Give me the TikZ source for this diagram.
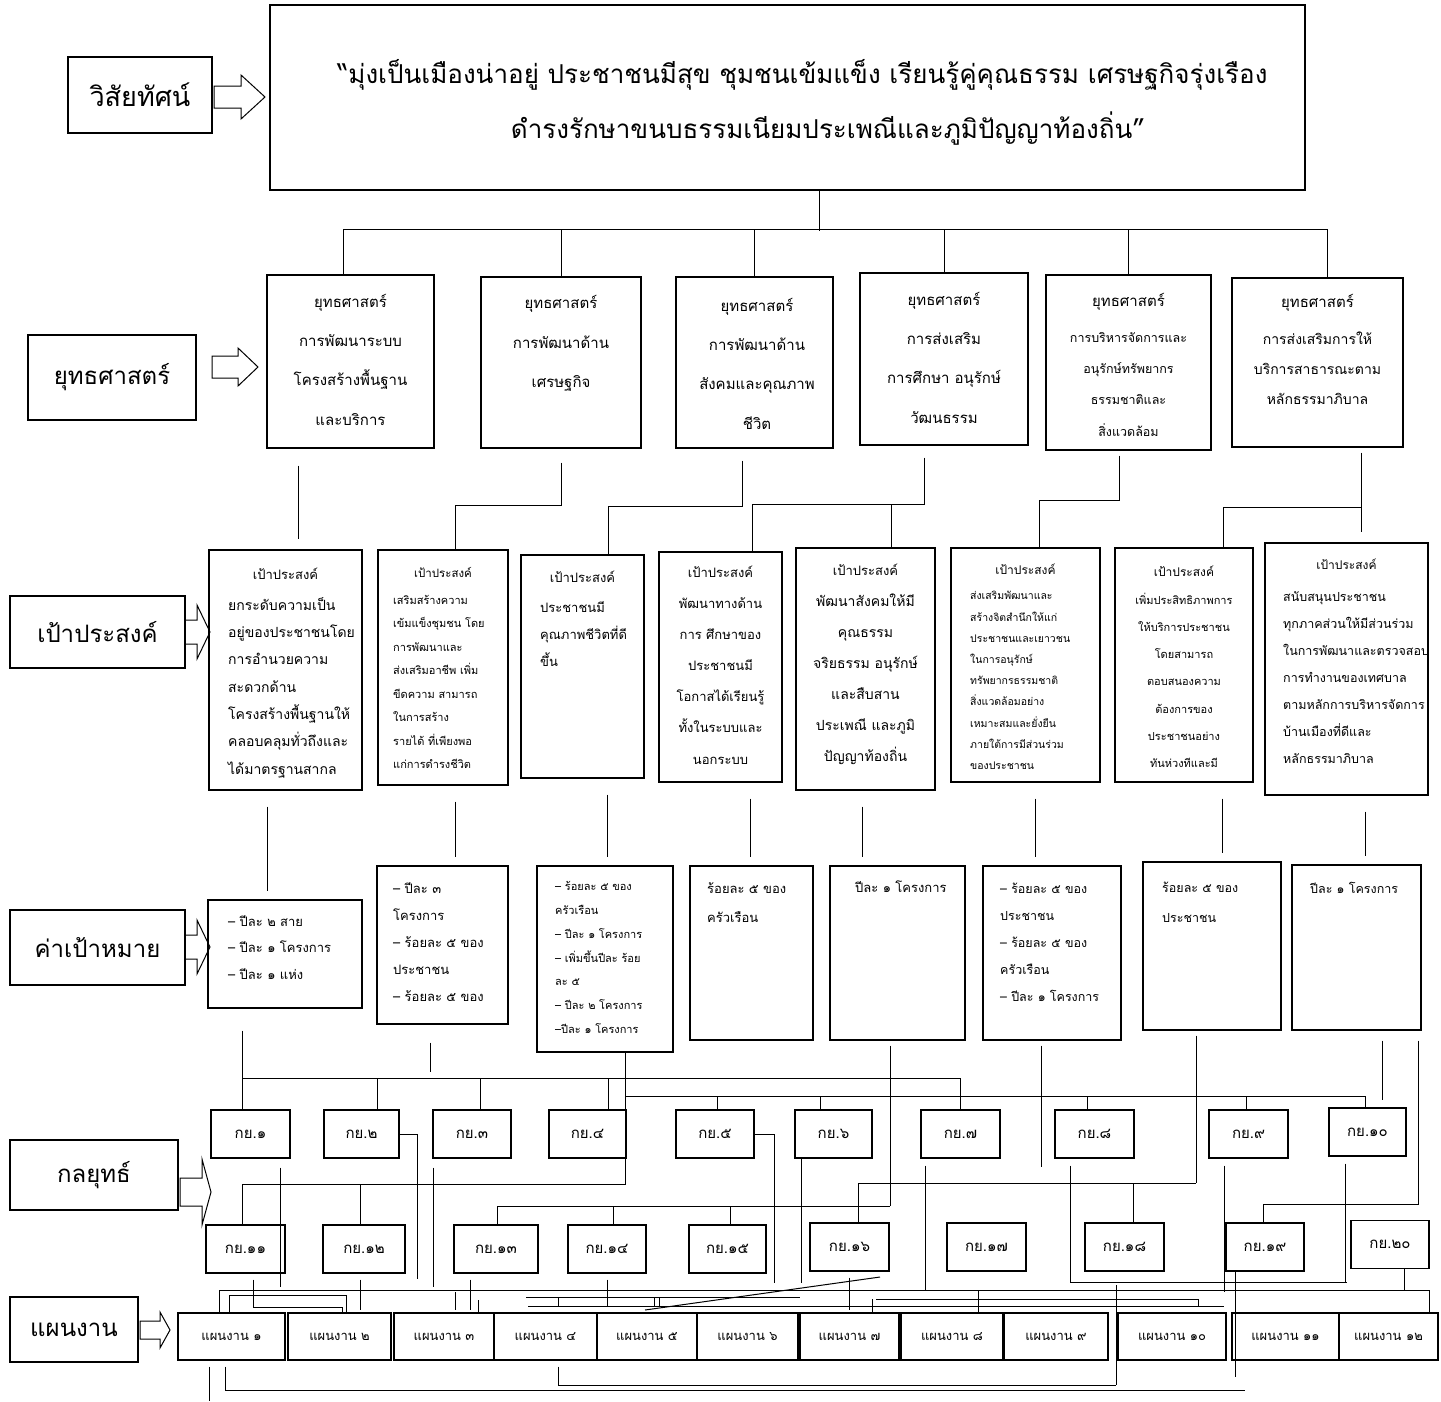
\documentclass[tikz,border=0pt]{standalone}
\usepackage{fontspec}
\newfontfamily\thai[Script=Thai]{Loma}
\newcommand{\tf}[2]{\thai\fontsize{#1}{#2}\selectfont}
% hollow block arrow: x, y, length, shaft half, head half, head length
\newcommand{\hollow}[6]{%
  \draw[line width=1pt] (#1,#2-#4) -- (#1+#3-#6,#2-#4) -- (#1+#3-#6,#2-#5) -- (#1+#3,#2)
    -- (#1+#3-#6,#2+#5) -- (#1+#3-#6,#2+#4) -- (#1,#2+#4) -- cycle;}

\begin{document}
\begin{tikzpicture}[x=1pt, y=-1pt,
    frame/.style={draw, line width=1.3pt, inner sep=0pt},
    head/.style={frame, font=\tf{24}{28}},
    tag/.style={frame, font=\tf{15}{17}},
    plan/.style={frame, font=\tf{13}{15}},
    txt/.style={inner sep=0pt},
    link/.style={line width=1pt}]
\useasboundingbox (0,0) rectangle (1441,1401);
\fill[white] (0,0) rectangle (1441,1401);

% left column
\node[head, font=\tf{27}{30}, minimum width=144, minimum height=76] (lvis) at (140,95) {วิสัยทัศน์};
\node[head, minimum width=168, minimum height=85] (lstr) at (112,377.5) {ยุทธศาสตร์};
\node[head, minimum width=175, minimum height=72] (lgoal) at (97.5,632) {เป้าประสงค์};
\node[head, minimum width=175, minimum height=75] (ltar) at (97.5,947.5) {ค่าเป้าหมาย};
\node[head, minimum width=168, minimum height=70] (ltac) at (94,1175) {กลยุทธ์};
\node[head, minimum width=128, minimum height=65] (lplan) at (74,1329.5) {แผนงาน};
\hollow{214}{97}{51}{11}{22}{24}
\hollow{212}{367}{46}{11}{19}{20}
\hollow{185}{632}{25}{12}{27}{13}
\hollow{185}{947}{25}{12}{27}{13}
\hollow{180}{1192}{31}{14}{33}{9}
\hollow{140}{1330}{30}{9}{18}{10}

% vision
\node[frame, minimum width=1035, minimum height=185] (vis) at (787.5,97.5) {};
\node[txt, anchor=base, font=\tf{26}{30}] (vis1) at (802.5,83) {“มุ่งเป็นเมืองน่าอยู่ ประชาชนมีสุข ชุมชนเข้มแข็ง เรียนรู้คู่คุณธรรม เศรษฐกิจรุ่งเรือง};
\node[txt, anchor=base, font=\tf{26}{30}] (vis2) at (828,138) {ดำรงรักษาขนบธรรมเนียมประเพณีและภูมิปัญญาท้องถิ่น”};

% strategies (text nodes sit on the baseline of their last line)
\node[frame, minimum width=167, minimum height=173] (s1) at (350.5,361.5) {};
\node[frame, minimum width=160, minimum height=171] (s2) at (561,362.5) {};
\node[frame, minimum width=157, minimum height=171] (s3) at (754.5,362.5) {};
\node[frame, minimum width=168, minimum height=172] (s4) at (944,359) {};
\node[frame, minimum width=165, minimum height=175] (s5) at (1128.5,362.5) {};
\node[frame, minimum width=171, minimum height=169] (s6) at (1317.5,362.5) {};
\node[txt, anchor=base, align=center, font=\tf{15}{39.3}] (s1t) at (350.5,425) {ยุทธศาสตร์\\การพัฒนาระบบ\\โครงสร้างพื้นฐาน\\และบริการ};
\node[txt, anchor=base, align=center, font=\tf{15}{39.3}] (s2t) at (561,387.5) {ยุทธศาสตร์\\การพัฒนาด้าน\\เศรษฐกิจ};
\node[txt, anchor=base, align=center, font=\tf{15}{39.3}] (s3t) at (757,429) {ยุทธศาสตร์\\การพัฒนาด้าน\\สังคมและคุณภาพ\\ชีวิต};
\node[txt, anchor=base, align=center, font=\tf{15}{39.3}] (s4t) at (944,423) {ยุทธศาสตร์\\การส่งเสริม\\การศึกษา อนุรักษ์\\วัฒนธรรม};
\node[txt, anchor=base, font=\tf{15}{30}] (s5h) at (1128.5,306) {ยุทธศาสตร์};
\node[txt, anchor=base, align=center, font=\tf{12.5}{31.3}] (s5t) at (1128.5,436) {การบริหารจัดการและ\\อนุรักษ์ทรัพยากร\\ธรรมชาติและ\\สิ่งแวดล้อม};
\node[txt, anchor=base, font=\tf{15}{30}] (s6h) at (1317.5,307) {ยุทธศาสตร์};
\node[txt, anchor=base, align=center, font=\tf{14}{30}] (s6t) at (1317.5,404) {การส่งเสริมการให้\\บริการสาธารณะตาม\\หลักธรรมาภิบาล};

% goals
\node[frame, minimum width=153, minimum height=240] (g1) at (285.5,670) {};
\node[frame, minimum width=130, minimum height=235] (g2) at (443,667.5) {};
\node[frame, minimum width=123, minimum height=223] (g3) at (582.5,666.5) {};
\node[frame, minimum width=123, minimum height=230] (g4) at (720.5,667) {};
\node[frame, minimum width=139, minimum height=242] (g5) at (865.5,669) {};
\node[frame, minimum width=149, minimum height=234] (g6) at (1025.5,665) {};
\node[frame, minimum width=138, minimum height=234] (g7) at (1184,665) {};
\node[frame, minimum width=163, minimum height=252] (g8) at (1346.5,669) {};
\node[txt, anchor=base, font=\tf{13}{27}] (g1h) at (285.5,579) {เป้าประสงค์};
\node[txt, anchor=base west, align=left, font=\tf{14}{27.3}] (g1t) at (228,774) {ยกระดับความเป็น\\อยู่ของประชาชนโดย\\การอำนวยความ\\สะดวกด้าน\\โครงสร้างพื้นฐานให้\\คลอบคลุมทั่วถึงและ\\ได้มาตรฐานสากล};
\node[txt, anchor=base, font=\tf{11.5}{24}] (g2h) at (443,577) {เป้าประสงค์};
\node[txt, anchor=base west, align=left, font=\tf{11}{23.5}] (g2t) at (393,768.5) {เสริมสร้างความ\\เข้มแข็งชุมชน โดย\\การพัฒนาและ\\ส่งเสริมอาชีพ เพิ่ม\\ขีดความ สามารถ\\ในการสร้าง\\รายได้ ที่เพียงพอ\\แก่การดำรงชีวิต};
\node[txt, anchor=base, font=\tf{13}{27}] (g3h) at (582.5,582) {เป้าประสงค์};
\node[txt, anchor=base west, align=left, font=\tf{13}{27}] (g3t) at (540,666) {ประชาชนมี\\คุณภาพชีวิตที่ดี\\ขึ้น};
\node[txt, anchor=base, font=\tf{13}{27}] (g4h) at (720.5,577) {เป้าประสงค์};
\node[txt, anchor=base, align=center, font=\tf{13}{31.2}] (g4t) at (720.5,764) {พัฒนาทางด้าน\\การ ศึกษาของ\\ประชาชนมี\\โอกาสได้เรียนรู้\\ทั้งในระบบและ\\นอกระบบ};
\node[txt, anchor=base, font=\tf{13}{27}] (g5h) at (865.5,575) {เป้าประสงค์};
\node[txt, anchor=base, align=center, font=\tf{14}{31}] (g5t) at (865.5,761) {พัฒนาสังคมให้มี\\คุณธรรม\\จริยธรรม อนุรักษ์\\และสืบสาน\\ประเพณี และภูมิ\\ปัญญาท้องถิ่น};
\node[txt, anchor=base, font=\tf{12}{24}] (g6h) at (1025.5,574) {เป้าประสงค์};
\node[txt, anchor=base west, align=left, font=\tf{10.5}{21.2}] (g6t) at (970,769.5) {ส่งเสริมพัฒนาและ\\สร้างจิตสำนึกให้แก่\\ประชาชนและเยาวชน\\ในการอนุรักษ์\\ทรัพยากรธรรมชาติ\\สิ่งแวดล้อมอย่าง\\เหมาะสมและยั่งยืน\\ภายใต้การมีส่วนร่วม\\ของประชาชน};
\node[txt, anchor=base, font=\tf{12}{24}] (g7h) at (1184,576) {เป้าประสงค์};
\node[txt, anchor=base, align=center, font=\tf{11}{27.2}] (g7t) at (1184,767.5) {เพิ่มประสิทธิภาพการ\\ให้บริการประชาชน\\โดยสามารถ\\ตอบสนองความ\\ต้องการของ\\ประชาชนอย่าง\\ทันห่วงทีและมี};
\node[txt, anchor=base, font=\tf{12}{24}] (g8h) at (1346.5,569) {เป้าประสงค์};
\node[txt, anchor=base west, align=left, font=\tf{12.5}{27}] (g8t) at (1283,763) {สนับสนุนประชาชน\\ทุกภาคส่วนให้มีส่วนร่วม\\ในการพัฒนาและตรวจสอบ\\การทำงานของเทศบาล\\ตามหลักการบริหารจัดการ\\บ้านเมืองที่ดีและ\\หลักธรรมาภิบาล};

% targets
\node[frame, minimum width=154, minimum height=108] (t1) at (285,954) {};
\node[frame, minimum width=131, minimum height=158] (t2) at (442.5,945) {};
\node[frame, minimum width=136, minimum height=186] (t3) at (605,959) {};
\node[frame, minimum width=123, minimum height=174] (t4) at (751.5,953) {};
\node[frame, minimum width=135, minimum height=174] (t5) at (897.5,953) {};
\node[frame, minimum width=138, minimum height=174] (t6) at (1052,953) {};
\node[frame, minimum width=138, minimum height=168] (t7) at (1212,946) {};
\node[frame, minimum width=129, minimum height=165] (t8) at (1356.5,947.5) {};
\node[txt, anchor=base west, align=left, font=\tf{13}{26.5}] (t1t) at (228,979) {– ปีละ ๒ สาย\\– ปีละ ๑ โครงการ\\– ปีละ ๑ แห่ง};
\node[txt, anchor=base west, align=left, font=\tf{13}{27}] (t2t) at (393,1001) {– ปีละ ๓\\โครงการ\\– ร้อยละ ๕ ของ\\ประชาชน\\– ร้อยละ ๕ ของ};
\node[txt, anchor=base west, align=left, font=\tf{11}{23.8}] (t3t) at (555,1033.5) {– ร้อยละ ๕ ของ\\ครัวเรือน\\– ปีละ ๑ โครงการ\\– เพิ่มขึ้นปีละ ร้อย\\ละ ๕\\– ปีละ ๒ โครงการ\\–ปีละ ๑ โครงการ};
\node[txt, anchor=base west, align=left, font=\tf{13}{29}] (t4t) at (707,922) {ร้อยละ ๕ ของ\\ครัวเรือน};
\node[txt, anchor=base west, font=\tf{13}{27}] (t5t) at (855,892) {ปีละ ๑ โครงการ};
\node[txt, anchor=base west, align=left, font=\tf{12.5}{27}] (t6t) at (1000,1001) {– ร้อยละ ๕ ของ\\ประชาชน\\– ร้อยละ ๕ ของ\\ครัวเรือน\\– ปีละ ๑ โครงการ};
\node[txt, anchor=base west, align=left, font=\tf{12.5}{30}] (t7t) at (1162,922) {ร้อยละ ๕ ของ\\ประชาชน};
\node[txt, anchor=base west, font=\tf{12.5}{27}] (t8t) at (1310,893) {ปีละ ๑ โครงการ};

% tactics
\foreach \n/\xl/\xr/\yc/\lab in {1/211/290/1134/๑, 2/324/399/1134/๒, 3/433/511/1134/๓,
    4/549/626/1134/๔, 5/676/754/1134/๕, 6/795/872/1134/๖, 7/921/1000/1134/๗,
    8/1055/1134/1134/๘, 9/1209/1288/1134/๙, 10/1329/1406/1132/๑๐,
    11/206/285/1249/๑๑, 12/323/405/1249/๑๒, 13/454/538/1249/๑๓, 14/568/646/1249/๑๔,
    15/689/766/1249/๑๕, 16/810/889/1247/๑๖, 17/947/1026/1247/๑๗, 18/1085/1164/1247/๑๘,
    19/1226/1304/1247/๑๙, 20/1351/1429/1244.5/๒๐}
  \node[tag, minimum width={\xr-\xl}, minimum height=48] (k\n) at ({(\xl+\xr)/2},\yc) {กย.\lab};

% plans
\foreach \n/\xl/\xr/\lab in {1/178/285/๑, 2/288/391/๒, 3/394/494/๓, 4/494/597/๔,
    5/597/697/๕, 6/697/798/๖, 7/800/899/๗, 8/901/1003/๘, 9/1004/1108/๙,
    10/1118/1226/๑๐, 11/1232/1339/๑๑, 12/1339/1438/๑๒}
  \node[plan, minimum width={\xr-\xl}, minimum height=47] (p\n) at ({(\xl+\xr)/2},1336.5) {แผนงาน \lab};

% vision -> strategies
\coordinate (bus) at (0,230);
\draw[link] ([xshift=32]vis.south) -- ++(0,40);
\draw[link] ([xshift=-7]s1.north) -- ++(0,-45) -| ([xshift=10]s6.north);
\foreach \s in {s2,s3,s4,s5}
  \draw[link] (\s.north) -- (\s.north |- bus);

% strategies -> goals
\draw[link, shorten <=17pt, shorten >=10pt] (298,0 |- s1.south) -- (298,0 |- g1.north);
\coordinate (j2) at (455,505);
\draw[link, shorten <=14pt] (s2.south) |- (j2) -- (j2 |- g2.north);
\coordinate (j3) at (608,506);
\draw[link, shorten <=12pt] ([xshift=-12.5]s3.south) |- (j3) -- (j3 |- g3.north);
\coordinate (j4) at (752,504);
\coordinate (j5) at (891,504);
\draw[link, shorten <=12pt] ([xshift=-20]s4.south) |- (j4) -- (j4 |- g4.north);
\draw[link] (j5) -- (j5 |- g5.north);
\coordinate (j6) at (1039,500);
\draw[link, shorten <=5pt] ([xshift=-9.5]s5.south) |- (j6) -- (j6 |- g6.north);
\coordinate (j7) at (1223,507);
\coordinate (j8) at (1361,507);
\draw[link, shorten <=5pt, shorten >=10pt] (j8 |- s6.south) -- (j8 |- g8.north);
\draw[link] (j8) -- (j7) -- (j7 |- g7.north);

% goals -> targets
\foreach \i/\xc in {1/267,2/455,3/607,4/750,5/862,6/1035,7/1222,8/1365}
  \draw[link, shorten <=16pt, shorten >=8pt] (\xc,0 |- g\i.south) -- (\xc,0 |- t\i.north);

% targets -> tactics
\draw[link, shorten <=22pt] (242,0 |- t1.south) -- (242,1078) -- (960,1078);
\foreach \k/\xx in {k1/242, k2/377, k3/480, k4/608, k7/960}
  \draw[link] (\xx,1078) -- (\xx,0 |- \k.north);
\draw[link, shorten <=18pt, shorten >=6pt] (430,0 |- t2.south) -- (430,1078);
\draw[link] (625,0 |- t3.south) -- (625,1096) -- (1365,1096);
\foreach \k/\xx in {k5/717, k6/820, k8/1087, k9/1246, k10/1365}
  \draw[link] (\xx,1096) -- (\xx,0 |- \k.north);
\draw[link] (625,1096) -- (625,1184) -- (242,1184);
\foreach \k/\xx in {k11/242, k12/360}
  \draw[link] (\xx,1184) -- (\xx,0 |- \k.north);
\draw[link, shorten <=5pt] (890,0 |- t5.south) -- (890,1206);
\draw[link] (858,1183) -- (1196,1183);
\foreach \k/\xx in {k16/858, k18/1133}
  \draw[link] (\xx,1183) -- (\xx,0 |- \k.north);
\draw[link] (497,1206) -- (890,1206);
\foreach \k/\xx in {k13/497, k14/613, k15/730}
  \draw[link] (\xx,1206) -- (\xx,0 |- \k.north);
\draw[link, shorten <=5pt] (1041,0 |- t6.south) -- (1041,1167);
\draw[link, shorten <=5pt] (1196,0 |- t7.south) -- (1196,1183);
\draw[link, shorten <=10pt] (1382,0 |- t8.south) -- (1382,1100);
\draw[link, shorten <=10pt] (1418,0 |- t8.south) -- (1418,1204) -- (1263,1204) -- (1263,0 |- k19.north);

% tactics -> plans
\draw[link, shorten <=9pt] (280,0 |- k1.south) -- (280,1287);
\draw[link] (k2.east) -| (417,1279);
\draw[link, shorten <=9pt] (433,0 |- k3.south) -- (433,1287);
\draw[link] (k5.east) -| (774,1283);
\draw[link] (801,0 |- k6.south) -- (801,1283);
\foreach \k/\xx/\yy in {k7/925/1290, k8/1070/1283, k9/1224/1292, k10/1345/1282}
  \draw[link, shorten <=7pt] (\xx,0 |- \k.south) -- (\xx,\yy);
\draw[link] (1070,1282) -- (1347,1282);
\draw[link] (1404,0 |- k20.south) -- (1404,1290);
\draw[link] (219,0 |- p1.north) -- (219,1290) -- (1429,1290) -- (1429,0 |- p12.north);
\draw[link, shorten <=6pt] (253,0 |- k11.south) -- (253,1307) -- (342,1307) -- (342,0 |- p2.north);
\draw[link, shorten <=6pt] (360,0 |- k12.south) -- (360,1310);
\draw[link] (229,0 |- p1.north) -- (229,1295) -- (346,1295) -- (346,0 |- p2.north);
\draw[link] (455,1292) -- (455,1310);
\draw[link, shorten <=6pt] (470,0 |- k13.south) -- (470,1310);
\draw[link] (478,1300) -- (478,0 |- p3.north);
\draw[link] (526,1297) -- (800,1297);
\foreach \xx in {558,654,659}
  \draw[link] (\xx,1297) -- (\xx,1307);
\draw[link, shorten <=6pt] (607,0 |- k14.south) -- (607,1307);
\draw[link] (528,1306) -- (1224,1306);
\draw[link] (876,1299) -- (1198,1299) -- (1198,1306);
\draw[link] (645,1310) -- (880,1277);
\draw[link, shorten <=6pt] (849,0 |- k16.south) -- (849,1310);
\draw[link] (872,1299) -- (872,0 |- p7.north);
\draw[link] (978,1290) -- (978,0 |- p8.north);
\draw[link] (1116,1285) -- (1116,1385);
\draw[link] (1235,0 |- k19.south) -- (1235,1377);

% below plans
\draw[link, shorten <=6pt] (209,0 |- p1.south) -- (209,1401);
\draw[link, shorten <=6pt] (225,0 |- p1.south) -- (225,1390) -- (1245,1390);
\draw[link, shorten <=6pt] (558,0 |- p4.south) -- (558,1385) -- (1116,1385);
\end{tikzpicture}
\end{document}
